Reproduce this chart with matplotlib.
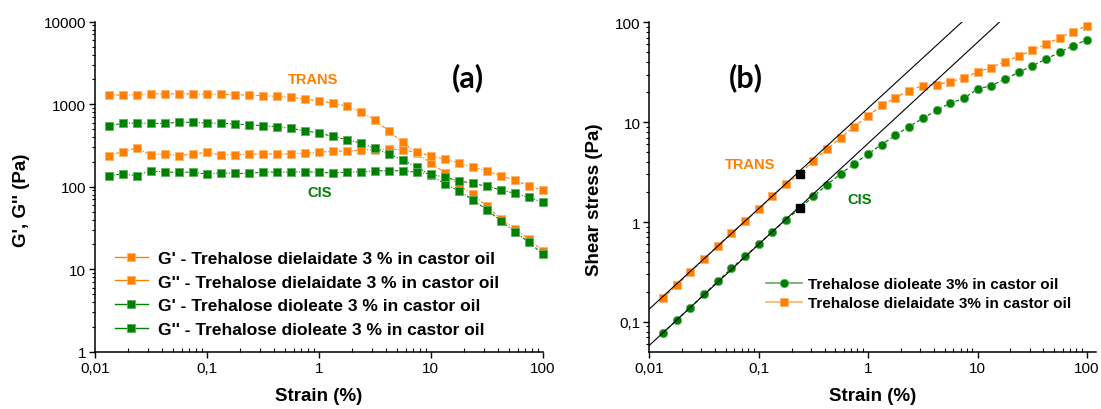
import numpy as np
import matplotlib
matplotlib.use("Agg")
import matplotlib.pyplot as plt
from matplotlib.lines import Line2D
from matplotlib.ticker import FixedLocator, FixedFormatter, NullFormatter, LogLocator

plt.rcParams['font.family'] = ['Liberation Sans', 'DejaVu Sans']

# ---------------- data ----------------
strain = [0.0133, 0.0178, 0.0237, 0.0316, 0.0422, 0.0562, 0.075, 0.1,
          0.133, 0.178, 0.237, 0.316, 0.422, 0.562, 0.75, 1.0,
          1.33, 1.78, 2.37, 3.16, 4.22, 5.62, 7.5, 10.0,
          13.3, 17.8, 23.7, 31.6, 42.2, 56.2, 75.0, 100.0]

# panel (a)
gp_trans = [1303, 1282, 1303, 1340, 1330, 1340, 1330, 1318, 1318, 1303, 1294, 1268,
            1247, 1213, 1156, 1094, 1035, 944, 811, 649, 473, 345, 254, 194,
            148, 104, 81, 58, 41, 31, 23, 16.7]
gpp_trans = [238, 266, 294, 244, 249, 238, 249, 261, 244, 244, 249, 249,
             249, 249, 256, 261, 269, 271, 276, 281, 286, 279, 261, 238,
             215, 194, 173, 155, 136, 120, 103, 90]
gp_cis = [548, 586, 591, 586, 586, 604, 604, 591, 586, 576, 565, 548,
          534, 510, 477, 448, 408, 372, 339, 292, 249, 212, 172, 139,
          108, 89.5, 69.5, 52.6, 38.7, 28.5, 21.2, 15.3]
gpp_cis = [136, 142.5, 136, 156, 150, 150, 150, 142.5, 147, 145, 145, 150,
           150, 150, 152, 150, 147, 150, 152, 156, 156, 156, 150, 142.5,
           130, 118, 110, 101, 92, 83, 74.5, 64.7]

# panel (b)
stress_cis = [0.0771, 0.104, 0.139, 0.188, 0.254, 0.343, 0.452, 0.601,
              0.798, 1.052, 1.368, 1.805, 2.36, 3.04, 3.83, 4.82,
              5.97, 7.38, 9.04, 10.9, 13.2, 15.5, 17.3, 21.5,
              23.2, 27.0, 31.5, 36.7, 42.8, 50.0, 58.3, 67.0]
stress_trans = [0.1726, 0.233, 0.313, 0.425, 0.578, 0.769, 1.014, 1.346,
                1.805, 2.41, 3.02, 4.10, 5.37, 6.98, 9.04, 11.5,
                14.7, 17.6, 20.7, 23.2, 23.7, 25.4, 27.7, 31.8,
                35.2, 40.3, 45.7, 52.4, 60.4, 69.7, 80.5, 92.5]
# end of linear viscoelastic region (black squares)
lvr_strain = [0.237, 0.237]
lvr_stress = [3.02, 1.368]
# power-law fits stress = K * strain^n
fit_K = [13.8, 6.13]
fit_n = [1.006, 1.012]

leg_a = ["G' - Trehalose dielaidate 3 % in castor oil",
         "G'' - Trehalose dielaidate 3 % in castor oil",
         "G' - Trehalose dioleate 3 % in castor oil",
         "G'' - Trehalose dioleate 3 % in castor oil"]
leg_b = ["Trehalose dioleate 3% in castor oil",
         "Trehalose dielaidate 3% in castor oil"]

xticks = [0.01, 0.1, 1, 10, 100]
xticklabels = ['0,01', '0,1', '1', '10', '100']
yticks_a = [1, 10, 100, 1000, 10000]
yticklabels_a = ['1', '10', '100', '1000', '10000']
yticks_b = [0.1, 1, 10, 100]
yticklabels_b = ['0,1', '1', '10', '100']

ORANGE = '#FF8000'
ORANGE_E = '#FFB26A'
GREEN = '#008000'
GREEN_E = '#5FAE5F'

W, H = 1101, 410
fig = plt.figure(figsize=(W / 100, H / 100), dpi=100)
ax1 = fig.add_axes([94.7 / W, 1 - 352.7 / H, 448 / W, 330 / H])
ax2 = fig.add_axes([649.2 / W, 1 - 352.5 / H, 446.8 / W, 329.2 / H])


def style_axis(ax, yt, ytl):
    ax.set_xscale('log')
    ax.set_yscale('log')
    for s in ['top', 'right']:
        ax.spines[s].set_visible(False)
    for s in ['left', 'bottom']:
        ax.spines[s].set_linewidth(1.1)
    ax.xaxis.set_major_locator(FixedLocator(xticks))
    ax.xaxis.set_major_formatter(FixedFormatter(xticklabels))
    ax.yaxis.set_major_locator(FixedLocator(yt))
    ax.yaxis.set_major_formatter(FixedFormatter(ytl))
    ax.xaxis.set_minor_locator(LogLocator(base=10, subs=np.arange(2, 10), numticks=20))
    ax.yaxis.set_minor_locator(LogLocator(base=10, subs=np.arange(2, 10), numticks=20))
    ax.xaxis.set_minor_formatter(NullFormatter())
    ax.yaxis.set_minor_formatter(NullFormatter())
    ax.tick_params(axis='x', which='major', direction='out', length=4, width=1.0,
                   labelsize=11, pad=3)
    ax.tick_params(axis='x', which='minor', direction='in', length=3, width=0.8)
    ax.tick_params(axis='y', which='major', direction='out', length=4, width=1.0,
                   labelsize=11, pad=2)
    ax.tick_params(axis='y', which='minor', direction='out', length=2.5, width=0.8)


# ---------------- panel (a) ----------------
ls_a = (0, (3, 1.5, 1, 1.5))
series_a = [(gp_trans, ORANGE, ORANGE_E), (gpp_trans, ORANGE, ORANGE_E),
            (gp_cis, GREEN, GREEN_E), (gpp_cis, GREEN, GREEN_E)]
for vals, c, ec in series_a:
    ax1.plot(strain, vals, color=c, lw=0.8, ls=ls_a, marker='s', ms=5.2,
             mfc=c, mec=ec, mew=0.6, clip_on=False)

style_axis(ax1, yticks_a, yticklabels_a)
ax1.set_xlim(0.01, 100)
ax1.set_ylim(1, 10000)
ax1.set_xlabel('Strain (%)', fontsize=13.5, fontweight='bold')
ax1.set_ylabel("G', G'' (Pa)", fontsize=13.5, fontweight='bold')
ax1.xaxis.set_label_coords(0.5, -0.107)
ax1.yaxis.set_label_coords(-0.144, 0.463)

handles_a = [Line2D([], [], color=c, lw=1.0, marker='s', ms=5.2, mfc=c, mec=ec, mew=0.6)
             for _, c, ec in series_a]
ax1.legend(handles_a, leg_a, loc='lower left', bbox_to_anchor=(0.045, 0.045),
           frameon=False, prop={'weight': 'bold', 'size': 12.5}, handlelength=1.9,
           handletextpad=0.6, labelspacing=0.49, borderpad=0, borderaxespad=0, numpoints=1)

ax1.text(0.833, 0.832, '(a)', transform=ax1.transAxes, ha='center', va='center',
         fontsize=22, fontweight='bold', family=['Lato', 'DejaVu Sans'])
ax1.text(0.488, 0.825, 'TRANS', transform=ax1.transAxes, ha='center', va='center',
         fontsize=10.5, fontweight='bold', color=ORANGE)
ax1.text(0.503, 0.483, 'CIS', transform=ax1.transAxes, ha='center', va='center',
         fontsize=10.5, fontweight='bold', color=GREEN)

# ---------------- panel (b) ----------------
ls_b = (0, (3, 2))
ax2.plot(strain, stress_cis, color=GREEN, lw=0.9, ls=ls_b, marker='o', ms=6,
         mfc=GREEN, mec=GREEN_E, mew=0.6, zorder=3)
ax2.plot(strain, stress_trans, color=ORANGE, lw=0.9, ls=ls_b, marker='s', ms=5.4,
         mfc=ORANGE, mec=ORANGE_E, mew=0.6, zorder=3)
fit_x = np.array([0.01, 121.0])
for K, n in zip(fit_K, fit_n):
    ax2.plot(fit_x, K * fit_x ** n, color='black', lw=0.8, zorder=4)
ax2.plot(lvr_strain, lvr_stress, ls='none', marker='s', ms=6.3, color='black', zorder=5)

style_axis(ax2, yticks_b, yticklabels_b)
ax2.set_xlim(0.01, 121)
ax2.set_ylim(0.0505, 100)
ax2.set_xlabel('Strain (%)', fontsize=13.5, fontweight='bold')
ax2.set_ylabel('Shear stress (Pa)', fontsize=13.5, fontweight='bold')
ax2.xaxis.set_label_coords(0.5, -0.107)
ax2.yaxis.set_label_coords(-0.103, 0.463)

handles_b = [Line2D([], [], color='#5FAE5F', lw=1.2, marker='o', ms=6, mfc=GREEN, mec=GREEN_E, mew=0.6),
             Line2D([], [], color='#FFB26A', lw=1.2, marker='s', ms=5.4, mfc=ORANGE, mec=ORANGE_E, mew=0.6)]
ax2.legend(handles_b, leg_b, loc='lower left', bbox_to_anchor=(0.261, 0.125),
           frameon=False, prop={'weight': 'bold', 'size': 11}, handlelength=2.4,
           handletextpad=0.35, labelspacing=0.36, borderpad=0, borderaxespad=0, numpoints=1)

ax2.text(0.217, 0.834, '(b)', transform=ax2.transAxes, ha='center', va='center',
         fontsize=22, fontweight='bold', family=['Lato', 'DejaVu Sans'])
ax2.text(0.225, 0.570, 'TRANS', transform=ax2.transAxes, ha='center', va='center',
         fontsize=10.5, fontweight='bold', color=ORANGE)
ax2.text(0.470, 0.463, 'CIS', transform=ax2.transAxes, ha='center', va='center',
         fontsize=10.5, fontweight='bold', color=GREEN)

fig.savefig('out.png', dpi=100)
